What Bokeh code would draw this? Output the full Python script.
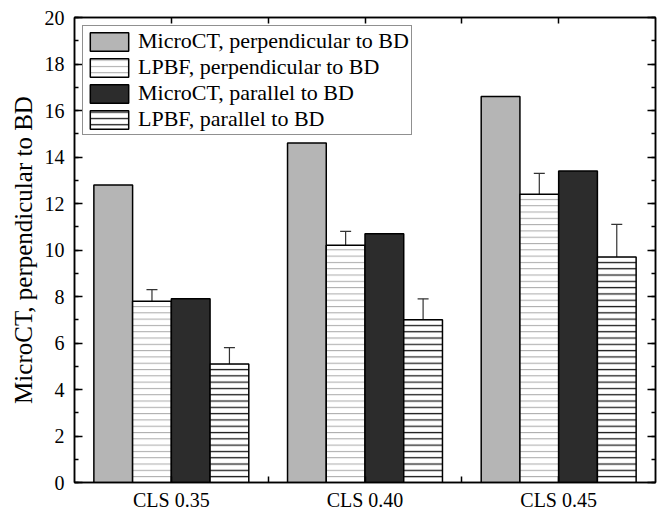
import numpy as np
from bokeh.plotting import figure
from bokeh.models import (ColumnDataSource, FixedTicker, SingleIntervalTicker,
                          LinearAxis, Whisker, TeeHead, CustomJSTickFormatter)
from bokeh.embed import file_html
from bokeh.resources import INLINE

# ---- data ----
groups = ["CLS 0.35", "CLS 0.40", "CLS 0.45"]
micro_perp = [12.8, 14.6, 16.6]
lpbf_perp = [7.8, 10.2, 12.4]
lpbf_perp_err = [0.5, 0.6, 0.9]
micro_par = [7.9, 10.7, 13.4]
lpbf_par = [5.1, 7.0, 9.7]
lpbf_par_err = [0.7, 0.9, 1.4]
series_names = ["MicroCT, perpendicular to BD", "LPBF, perpendicular to BD",
                "MicroCT, parallel to BD", "LPBF, parallel to BD"]
y_label = "MicroCT, perpendicular to BD"

FONT = "Liberation Serif"
gx = np.arange(1, len(groups) + 1, dtype=float)
bw = 0.2
offsets = [-0.3, -0.1, 0.1, 0.3]

p = figure(width=664, height=513, x_range=(0.5, 3.5), y_range=(0, 20),
           output_backend="svg", toolbar_location=None,
           min_border_left=74, min_border_right=9, min_border_top=17,
           min_border_bottom=29, x_axis_location=None, y_axis_location=None)
p.background_fill_color = "white"
p.border_fill_color = "white"
p.outline_line_color = "black"
p.outline_line_width = 1.5
p.xgrid.visible = False
p.ygrid.visible = False

values = [micro_perp, lpbf_perp, micro_par, lpbf_par]
styles = [
    dict(fill_color="#b5b5b5"),
    dict(fill_color="white", hatch_pattern="-", hatch_color="#a8a8a8",
         hatch_scale=6.3, hatch_weight=1.0),
    dict(fill_color="#2c2c2c"),
    dict(fill_color="white", hatch_pattern="-", hatch_color="#1a1a1a",
         hatch_scale=6.3, hatch_weight=1.3),
]
for vals, off, name, st in zip(values, offsets, series_names, styles):
    src = ColumnDataSource(dict(x=gx + off, top=vals))
    p.vbar(x="x", top="top", bottom=0, width=bw, source=src,
           line_color="black", line_width=1.5, legend_label=name, **st)

for vals, errs, off in [(lpbf_perp, lpbf_perp_err, offsets[1]),
                        (lpbf_par, lpbf_par_err, offsets[3])]:
    v = np.array(vals)
    e = np.array(errs)
    src = ColumnDataSource(dict(base=gx + off, upper=v + e, lower=v - e))
    w = Whisker(base="base", upper="upper", lower="lower", source=src,
                line_color="#333333", line_width=1.2,
                upper_head=TeeHead(size=11, line_color="#333333", line_width=1.2),
                lower_head=TeeHead(size=11, line_color="#333333", line_width=1.2))
    p.add_layout(w)

# ---- axes ----
def style_axis(ax):
    ax.axis_line_color = "black"
    ax.axis_line_width = 1.5
    ax.major_tick_line_color = "black"
    ax.major_tick_line_width = 1.5
    ax.minor_tick_line_color = "black"
    ax.minor_tick_line_width = 1.5
    ax.major_tick_out = 0
    ax.minor_tick_out = 0
    ax.major_label_text_font = FONT
    ax.major_label_text_color = "black"

blank = CustomJSTickFormatter(code="return '';")

xt = FixedTicker(ticks=list(gx), minor_ticks=list(gx[:-1] + 0.5))
bottom = LinearAxis(ticker=xt)
style_axis(bottom)
bottom.major_tick_in = 6
bottom.minor_tick_in = 6
bottom.major_label_overrides = {float(x): g for x, g in zip(gx, groups)}
bottom.major_label_overrides.update({int(x): g for x, g in zip(gx, groups)})
bottom.major_label_text_font_size = "20px"
bottom.major_label_standoff = 6
p.add_layout(bottom, "below")

top = LinearAxis(ticker=FixedTicker(ticks=list(gx), minor_ticks=list(gx[:-1] + 0.5)),
                 formatter=blank)
style_axis(top)
top.major_tick_in = 6
top.minor_tick_in = 6
top.major_label_standoff = 0
p.add_layout(top, "above")

left = LinearAxis(ticker=SingleIntervalTicker(interval=2, num_minor_ticks=2))
style_axis(left)
left.major_tick_in = 8
left.minor_tick_in = 4
left.major_label_text_font_size = "20px"
left.major_label_standoff = 10
left.axis_label = y_label
left.axis_label_text_font = FONT
left.axis_label_text_font_style = "normal"
left.axis_label_text_font_size = "25px"
left.axis_label_text_color = "black"
left.axis_label_standoff = 5
p.add_layout(left, "left")

right = LinearAxis(ticker=SingleIntervalTicker(interval=2, num_minor_ticks=2),
                   formatter=blank)
style_axis(right)
right.major_tick_in = 8
right.minor_tick_in = 4
right.major_label_standoff = 0
p.add_layout(right, "right")

# ---- legend ----
lg = p.legend[0]
lg.location = "top_left"
lg.margin = 8
lg.padding = 2
lg.spacing = -2
lg.glyph_width = 48
lg.glyph_height = 23
lg.label_height = 23
lg.label_standoff = 5
lg.label_text_font = FONT
lg.label_text_font_size = "22px"
lg.label_text_color = "black"
lg.border_line_color = "#222222"
lg.border_line_width = 1.5
lg.background_fill_color = "white"
lg.background_fill_alpha = 1.0

open("out.html", "w").write(file_html(p, INLINE))
